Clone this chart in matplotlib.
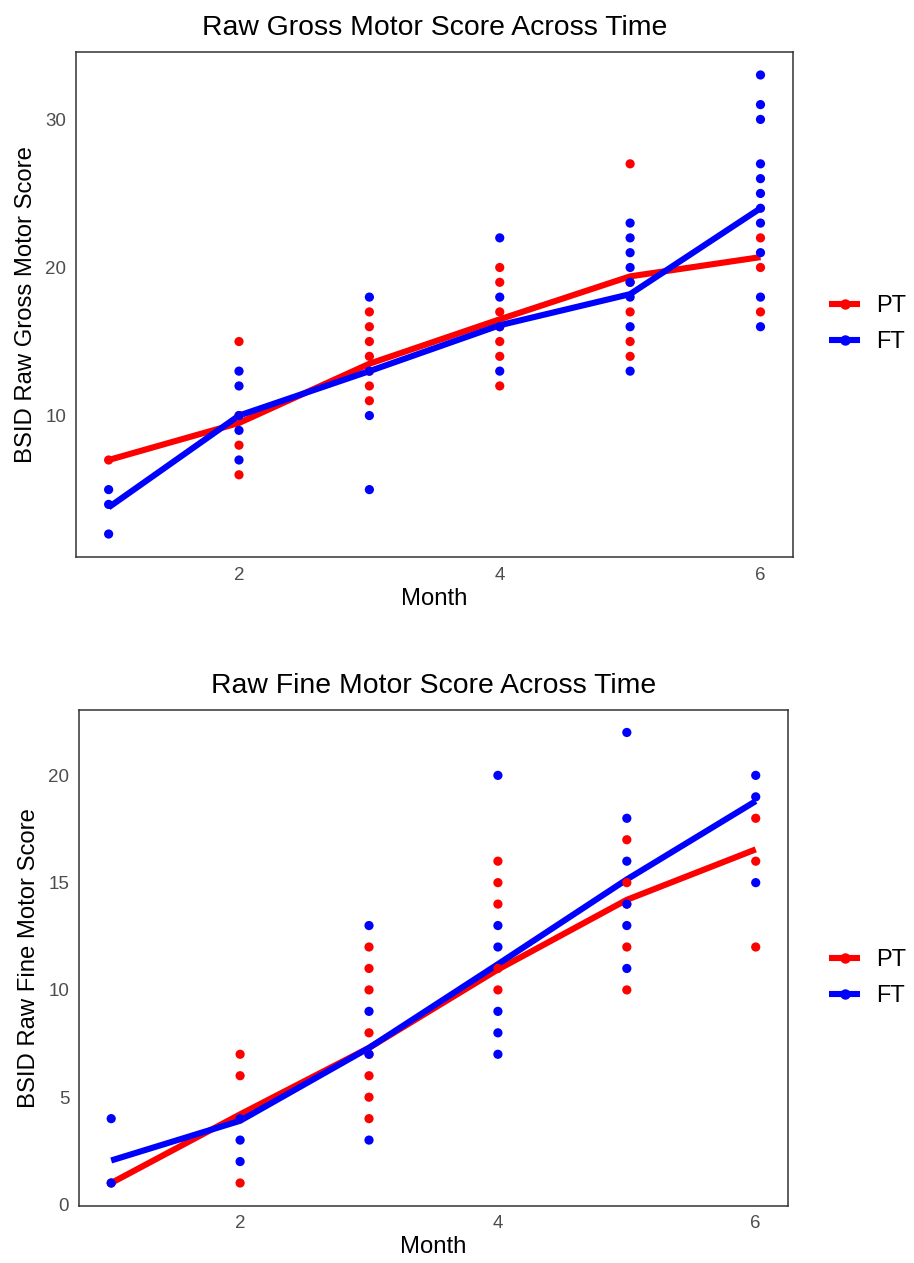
import matplotlib
matplotlib.use('Agg')
import matplotlib.pyplot as plt
from matplotlib.lines import Line2D

plt.rcParams['font.family'] = ['Liberation Sans', 'DejaVu Sans']

months = [1, 2, 3, 4, 5, 6]
RED = '#FF0000'
BLUE = '#0000FF'

# gross motor: individual scores per month
gross_pt = {
    1: [7],
    2: [15, 10, 8, 6],
    3: [17, 16, 15, 14, 13, 12, 11],
    4: [20, 19, 17, 16, 15, 14, 12],
    5: [27, 19, 17, 15, 14],
    6: [22, 20, 17],
}
gross_ft = {
    1: [5, 4, 2],
    2: [13, 12, 10, 9, 7],
    3: [18, 13, 10, 5],
    4: [22, 18, 16, 13],
    5: [23, 22, 21, 20, 19, 18, 16, 13],
    6: [33, 31, 30, 27, 26, 25, 24, 23, 21, 18, 16],
}
gross_pt_line = [7.0, 9.5, 13.5, 16.5, 19.4, 20.7]
gross_ft_line = [3.8, 10.0, 13.0, 16.1, 18.2, 24.0]

# fine motor
fine_pt = {
    1: [1],
    2: [7, 6, 4, 1],
    3: [12, 11, 10, 8, 7, 6, 5, 4],
    4: [16, 15, 14, 11, 10],
    5: [17, 15, 14, 12, 10],
    6: [18, 16, 12],
}
fine_ft = {
    1: [4, 1],
    2: [4, 3, 2],
    3: [13, 9, 7, 3],
    4: [20, 13, 12, 9, 8, 7],
    5: [22, 18, 16, 14, 13, 11],
    6: [20, 19, 15],
}
fine_pt_line = [1.0, 4.2, 7.3, 10.95, 14.2, 16.55]
fine_ft_line = [2.05, 3.9, 7.3, 11.2, 15.15, 18.8]


def flatten(d):
    xs, ys = [], []
    for m, vals in d.items():
        for v in vals:
            xs.append(m)
            ys.append(v)
    return xs, ys


def draw_panel(ax, pt, ft, pt_line, ft_line, title, ylabel, ylim, yticks, legend_y):
    ax.plot(months, pt_line, color=RED, lw=4.4, solid_capstyle='butt', zorder=2)
    ax.plot(months, ft_line, color=BLUE, lw=4.4, solid_capstyle='butt', zorder=2)
    x, y = flatten(pt)
    ax.scatter(x, y, s=44, color=RED, edgecolors='none', zorder=3)
    x, y = flatten(ft)
    ax.scatter(x, y, s=44, color=BLUE, edgecolors='none', zorder=4)

    ax.set_xlim(0.75, 6.25)
    ax.set_ylim(*ylim)
    ax.set_xticks([2, 4, 6])
    ax.set_yticks(yticks)
    ax.tick_params(length=0, pad=7, labelsize=13.5, labelcolor='#4d4d4d')
    for s in ax.spines.values():
        s.set_color('#333333')
        s.set_linewidth(1.1)
    ax.set_title(title, fontsize=20.4, pad=12)
    ax.set_xlabel('Month', fontsize=17.2, labelpad=3)
    ax.set_ylabel(ylabel, fontsize=17.2, labelpad=6)

    handles = [
        Line2D([0], [0], color=RED, lw=4.4, marker='o', markersize=6.5, solid_capstyle='butt'),
        Line2D([0], [0], color=BLUE, lw=4.4, marker='o', markersize=6.5, solid_capstyle='butt'),
    ]
    ax.legend(handles, ['PT', 'FT'], loc='center left', bbox_to_anchor=(0.884, legend_y),
              bbox_transform=ax.figure.transFigure, frameon=False, fontsize=17,
              handlelength=1.3, handletextpad=0.7, labelspacing=0.6)


fig = plt.figure(figsize=(9.14, 12.63), dpi=100)
ax1 = fig.add_axes([0.0832, 0.559, 0.7845, 0.3998])
ax2 = fig.add_axes([0.0864, 0.0455, 0.7757, 0.3924])

draw_panel(ax1, gross_pt, gross_ft, gross_pt_line, gross_ft_line,
           'Raw Gross Motor Score Across Time', 'BSID Raw Gross Motor Score',
           (0.45, 34.55), [10, 20, 30], 1 - 324 / 1263)
draw_panel(ax2, fine_pt, fine_ft, fine_pt_line, fine_ft_line,
           'Raw Fine Motor Score Across Time', 'BSID Raw Fine Motor Score',
           (-0.05, 23.05), [0, 5, 10, 15, 20], 1 - 978 / 1263)

fig.savefig('out.png', dpi=100)
